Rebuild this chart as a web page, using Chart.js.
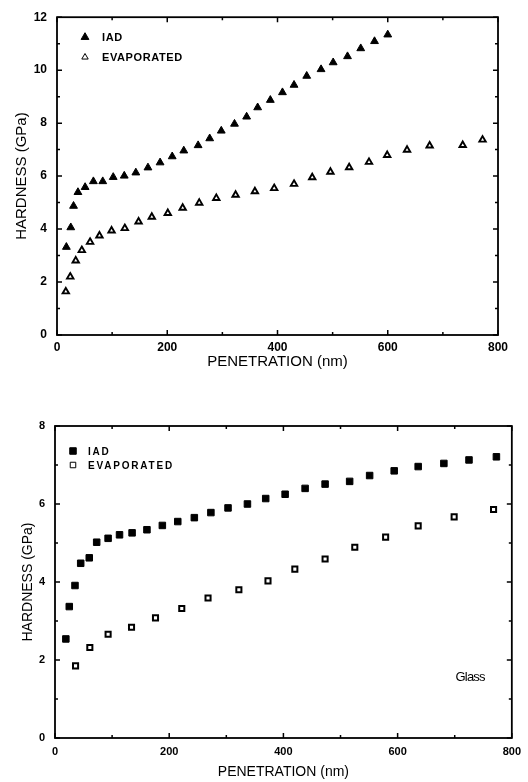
<!DOCTYPE html>
<html>
<head>
<meta charset="utf-8">
<script src="https://cdn.jsdelivr.net/npm/chart.js@4/dist/chart.umd.min.js"></script>
<style>
  body { margin: 0; background: #fff; }
  #wrap { position: relative; width: 528px; height: 782px; }
  canvas { position: absolute; left: 0; }
  #topChart { top: 0; }
  #bottomChart { top: 390px; }
</style>
</head>
<body>
<div id="wrap">
  <canvas id="topChart" width="528" height="390"></canvas>
  <canvas id="bottomChart" width="528" height="392"></canvas>
</div>
<script>
// top panel: triangles
let topIadX = [17, 25, 30, 38, 51, 66, 83, 102, 122, 143, 165, 187, 209, 230, 256, 277, 298, 322, 344, 364, 387, 409, 430, 453, 479, 501, 527, 551, 576, 600];
let topIadY = [3.32, 4.06, 4.87, 5.39, 5.58, 5.80, 5.80, 5.96, 6.01, 6.13, 6.32, 6.51, 6.74, 6.96, 7.16, 7.42, 7.71, 7.97, 8.24, 8.59, 8.87, 9.16, 9.44, 9.78, 10.03, 10.29, 10.52, 10.82, 11.09, 11.34];
let topEvapX = [16, 24, 34, 45, 60, 77, 99, 123, 148, 172, 201, 228, 258, 289, 324, 359, 394, 430, 463, 496, 530, 566, 599, 635, 676, 736, 772];
let topEvapY = [1.64, 2.20, 2.81, 3.20, 3.51, 3.75, 3.94, 4.03, 4.28, 4.46, 4.60, 4.80, 4.99, 5.17, 5.29, 5.42, 5.54, 5.70, 5.95, 6.16, 6.33, 6.53, 6.79, 6.99, 7.15, 7.17, 7.37];

// bottom panel: squares (Glass)
let botIadX = [19, 25, 35, 45, 60, 73, 93, 113, 135, 161, 188, 215, 244, 273, 303, 337, 369, 403, 438, 473, 516, 551, 594, 636, 681, 725, 773];
let botIadY = [2.54, 3.37, 3.91, 4.48, 4.62, 5.02, 5.12, 5.21, 5.26, 5.34, 5.45, 5.55, 5.65, 5.78, 5.90, 6.00, 6.14, 6.25, 6.40, 6.51, 6.58, 6.73, 6.85, 6.96, 7.04, 7.13, 7.21];
let botEvapX = [36, 61, 93, 134, 176, 222, 268, 322, 373, 420, 473, 525, 579, 636, 699, 768];
let botEvapY = [1.85, 2.32, 2.66, 2.84, 3.08, 3.32, 3.59, 3.80, 4.03, 4.33, 4.59, 4.89, 5.15, 5.44, 5.67, 5.86];

let seriesNames = ['IAD', 'EVAPORATED'];
let xTitle = 'PENETRATION (nm)';
let yTitle = 'HARDNESS (GPa)';

function toPoints(xs, ys) {
  return xs.map((x, i) => ({ x: x, y: ys[i] }));
}

// box + inward tick marks on all four sides
const frameTicks = {
  id: 'frameTicks',
  afterDraw(chart) {
    const { ctx, chartArea: a, scales } = chart;
    ctx.save();
    ctx.strokeStyle = '#000';
    ctx.lineWidth = 1.8;
    ctx.strokeRect(a.left, a.top, a.right - a.left, a.bottom - a.top);
    ctx.lineWidth = 1.5;
    scales.x.ticks.forEach(t => {
      const px = scales.x.getPixelForValue(t.value);
      const len = t.value % 200 === 0 ? 5 : 3;
      ctx.beginPath();
      ctx.moveTo(px, a.bottom); ctx.lineTo(px, a.bottom - len);
      ctx.moveTo(px, a.top); ctx.lineTo(px, a.top + len);
      ctx.stroke();
    });
    scales.y.ticks.forEach(t => {
      const py = scales.y.getPixelForValue(t.value);
      const len = t.value % 2 === 0 ? 5 : 3;
      ctx.beginPath();
      ctx.moveTo(a.left, py); ctx.lineTo(a.left + len, py);
      ctx.moveTo(a.right, py); ctx.lineTo(a.right - len, py);
      ctx.stroke();
    });
    ctx.restore();
  }
};

// legend + notes drawn inside the plot
const innerText = {
  id: 'innerText',
  afterDraw(chart, args, opts) {
    const { ctx, chartArea: a } = chart;
    ctx.save();
    ctx.textBaseline = 'middle';
    chart.data.datasets.forEach((ds, i) => {
      const y = a.top + opts.rowY[i];
      ctx.fillStyle = ds.pointBackgroundColor;
      ctx.strokeStyle = '#000';
      Chart.helpers.drawPoint(ctx, {
        pointStyle: ds.pointStyle, radius: opts.markR[i], rotation: 0, borderWidth: ds.borderWidth
      }, a.left + opts.markX, y);
      ctx.fillStyle = '#000';
      ctx.font = opts.font;
      ctx.letterSpacing = opts.spacing;
      ctx.fillText(ds.label, a.left + opts.textX, y + 1);
    });
    if (opts.note) {
      ctx.font = '13px "Liberation Sans", Arial, sans-serif';
      ctx.letterSpacing = '-0.8px';
      ctx.textAlign = 'center';
      ctx.fillText(opts.note.text, chart.scales.x.getPixelForValue(opts.note.x), chart.scales.y.getPixelForValue(opts.note.y));
    }
    ctx.restore();
  }
};

function makeChart(id, cfg) {
  return new Chart(document.getElementById(id).getContext('2d'), {
    type: 'scatter',
    data: {
      datasets: [
        {
          label: seriesNames[0], data: cfg.iad,
          pointStyle: cfg.style, pointRadius: cfg.r, pointBackgroundColor: '#000',
          pointBorderColor: '#000', borderWidth: 1
        },
        {
          label: seriesNames[1], data: cfg.evap,
          pointStyle: cfg.style, pointRadius: cfg.r2, pointBackgroundColor: '#fff',
          pointBorderColor: '#000', borderWidth: cfg.bw2
        }
      ]
    },
    options: {
      responsive: false,
      animation: false,
      layout: { padding: cfg.pad },
      plugins: {
        legend: { display: false },
        tooltip: { enabled: false },
        innerText: cfg.inner
      },
      scales: {
        x: {
          type: 'linear', min: 0, max: 800,
          grid: { display: false, drawTicks: false },
          border: { display: false },
          ticks: {
            stepSize: 100, autoSkip: false, maxRotation: 0, padding: cfg.xPad,
            color: '#000', font: { family: '"Liberation Sans", Arial, sans-serif', size: cfg.tickSize, weight: 'bold' },
            callback: v => (v % 200 === 0 ? v : '')
          },
          title: {
            display: true, text: xTitle, color: '#000',
            font: { family: '"Liberation Sans", Arial, sans-serif', size: cfg.titleSize },
            padding: { top: 0, bottom: cfg.xTitlePad }
          },
          afterFit: s => { s.height = cfg.xH; }
        },
        y: {
          type: 'linear', min: 0, max: cfg.yMax,
          grid: { display: false, drawTicks: false },
          border: { display: false },
          ticks: {
            stepSize: 1, autoSkip: false, padding: 10,
            color: '#000', font: { family: '"Liberation Sans", Arial, sans-serif', size: cfg.tickSize, weight: 'bold' },
            callback: v => (v % 2 === 0 ? v : '')
          },
          title: {
            display: true, text: yTitle, color: '#000',
            font: { family: '"Liberation Sans", Arial, sans-serif', size: cfg.titleSize },
            padding: { top: cfg.yTitlePad, bottom: 0 }
          },
          afterFit: s => { s.width = cfg.yW; }
        }
      }
    },
    plugins: [frameTicks, innerText]
  });
}

makeChart('topChart', {
  iad: toPoints(topIadX, topIadY),
  evap: toPoints(topEvapX, topEvapY),
  style: 'triangle', r: 4.5, r2: 3.7, bw2: 1.9,
  yMax: 12,
  pad: { left: 0, top: 12, right: 30, bottom: 0 },
  xH: 55, yW: 57, xPad: 5, tickSize: 12, titleSize: 15,
  xTitlePad: 19, yTitlePad: 13,
  inner: { font: 'bold 11px "Liberation Sans", Arial, sans-serif', spacing: '0.6px', markX: 28, textX: 45, rowY: [20, 40], markR: [4.5, 3.7] }
});

makeChart('bottomChart', {
  iad: toPoints(botIadX, botIadY),
  evap: toPoints(botEvapX, botEvapY),
  style: 'rect', r: 4.6, r2: 3.6, bw2: 2,
  yMax: 8,
  pad: { left: 0, top: 36, right: 13, bottom: 0 },
  xH: 44, yW: 55, xPad: 7, tickSize: 11, titleSize: 14,
  xTitlePad: 1, yTitlePad: 20,
  inner: { font: 'bold 10px "Liberation Sans", Arial, sans-serif', spacing: '1.8px', markX: 18, textX: 33, rowY: [25, 39], markR: [4.6, 3.9],
           note: { text: 'Glass', x: 727, y: 1.56 } }
});
</script>
</body>
</html>
